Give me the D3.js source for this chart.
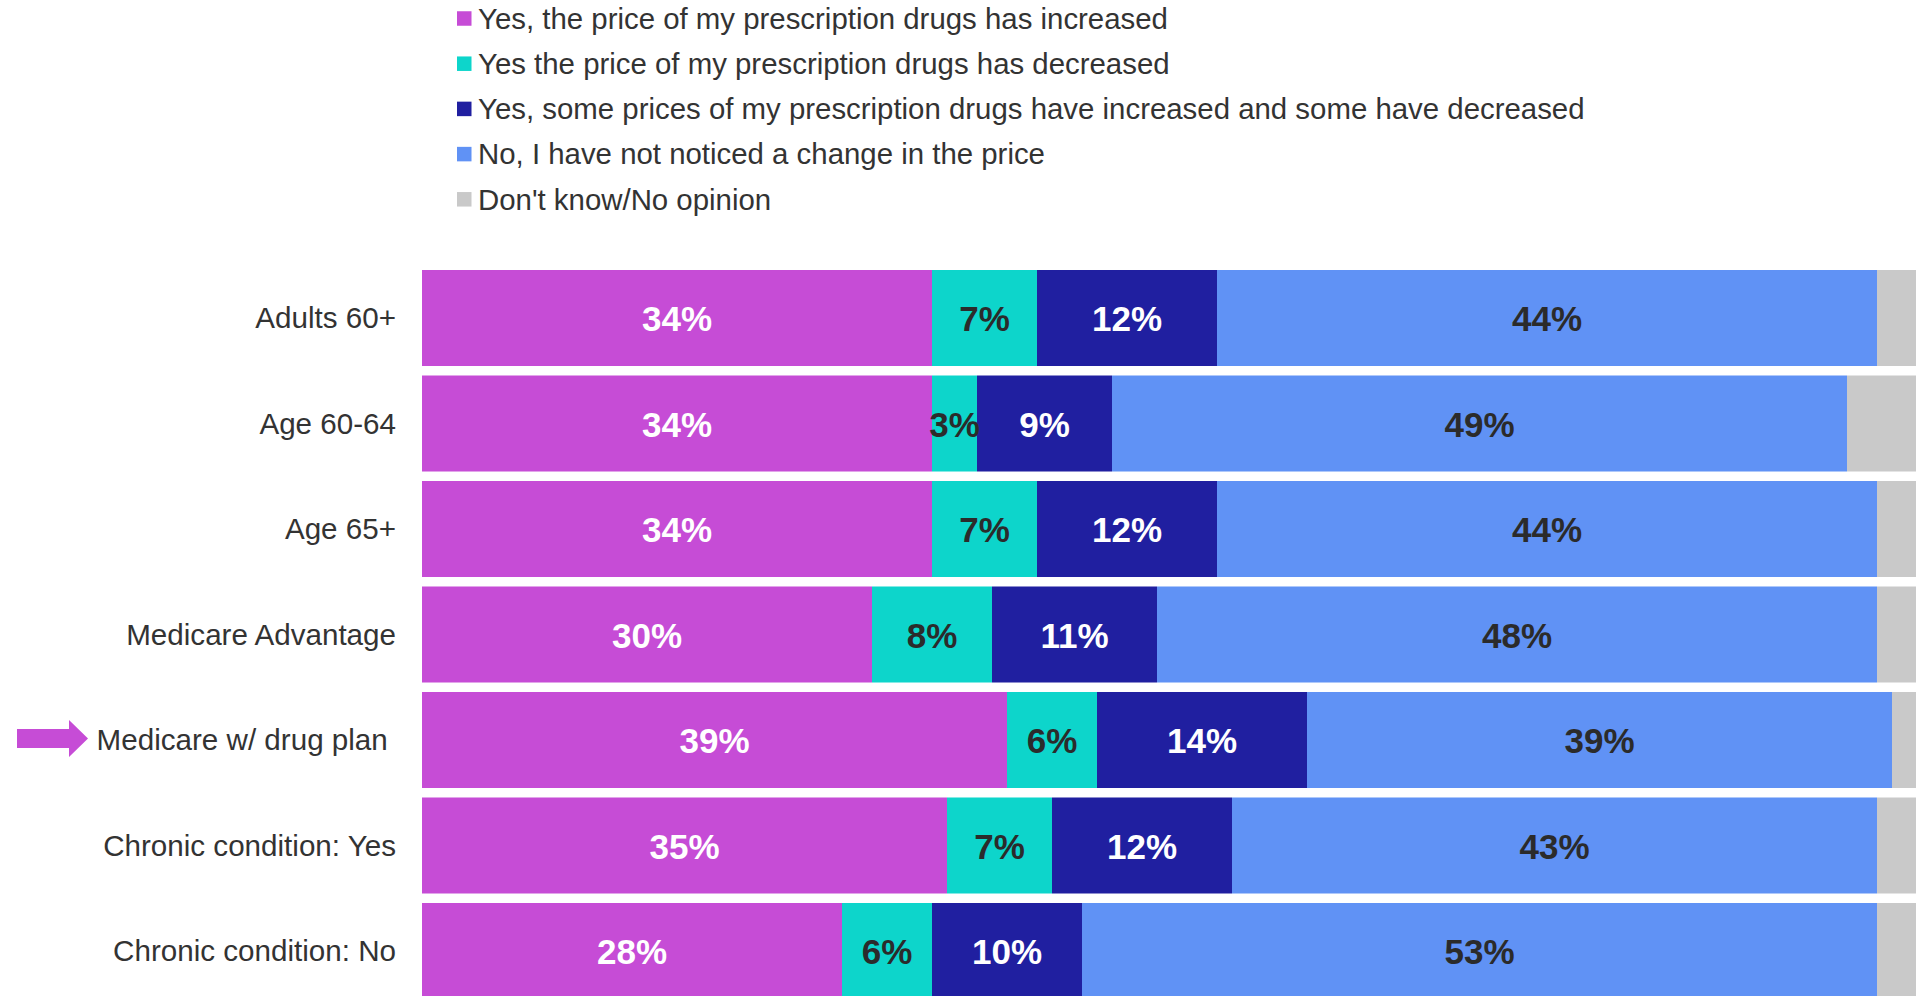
<!DOCTYPE html>
<html>
<head>
<meta charset="utf-8">
<script src="https://cdn.jsdelivr.net/npm/d3@7"></script>
<style>
  html, body { margin: 0; padding: 0; background: #fff; overflow: hidden; }
  svg { display: block; font-family: "Liberation Sans", Arial, sans-serif; }
</style>
</head>
<body>
<svg id="chart" width="1916" height="996"></svg>
<script>
// Survey groups (rows, top to bottom)
const categories = [
  "Adults 60+",
  "Age 60-64",
  "Age 65+",
  "Medicare Advantage",
  "Medicare w/ drug plan ",
  "Chronic condition: Yes",
  "Chronic condition: No"
];

// Response options (stack order, left to right)
const seriesNames = [
  "Yes, the price of my prescription drugs has increased",
  "Yes the price of my prescription drugs has decreased",
  "Yes, some prices of my prescription drugs have increased and some have decreased",
  "No, I have not noticed a change in the price",
  "Don't know/No opinion"
];

// Percent of respondents per group, one array per response
const increased     = [34, 34, 34, 30, 39, 35, 28];
const decreased     = [7, 3, 7, 8, 6, 7, 6];
const mixed         = [12, 9, 12, 11, 14, 12, 10];
const noChange      = [44, 49, 44, 48, 39, 43, 53];
const dontKnow      = [3, 5, 3, 3, 2, 3, 3];

const seriesValues = [increased, decreased, mixed, noChange, dontKnow];
const colors = ["#C64CD6", "#0DD5CB", "#201FA0", "#6092F5", "#C9C9C9"];
const labelColors = ["#ffffff", "#2b2b2b", "#ffffff", "#2b2b2b", null];

// Row highlighted with an arrow
const highlighted = "Medicare w/ drug plan ";

const svg = d3.select("#chart");

const rows = categories.map((c, i) => {
  const r = { category: c };
  seriesNames.forEach((s, k) => { r[s] = seriesValues[k][i]; });
  return r;
});

const stacked = d3.stack().keys(seriesNames)(rows);

const x = d3.scaleLinear().domain([0, 100]).range([422, 1922]);
const y = d3.scaleBand()
  .domain(categories)
  .range([270, 270 + 7 * 105.5 - 9.5])
  .paddingInner(0.09)
  .paddingOuter(0);

// Legend
const legend = svg.append("g").attr("class", "legend");
seriesNames.forEach((name, k) => {
  const cy = 18.5 + k * 45.2;
  legend.append("rect")
    .attr("x", 457).attr("y", cy - 7.25)
    .attr("width", 14.5).attr("height", 14.5)
    .attr("fill", colors[k]);
  legend.append("text")
    .attr("x", 478).attr("y", cy)
    .attr("dy", "0.35em")
    .attr("font-size", 29.4)
    .attr("fill", "#333")
    .text(name);
});

// Stacked segments
const layers = svg.append("g").attr("class", "bars")
  .selectAll("g").data(stacked).join("g")
  .attr("fill", (d, k) => colors[k]);

layers.selectAll("rect")
  .data(d => d.map(p => ({ p, cat: p.data.category })))
  .join("rect")
  .attr("x", d => x(d.p[0]))
  .attr("y", d => y(d.cat))
  .attr("width", d => x(d.p[1]) - x(d.p[0]))
  .attr("height", y.bandwidth());

// Segment value labels
const valueLabels = svg.append("g").attr("class", "values");
stacked.forEach((layer, k) => {
  if (!labelColors[k]) return;
  valueLabels.selectAll(null)
    .data(layer)
    .join("text")
    .attr("x", d => (x(d[0]) + x(d[1])) / 2)
    .attr("y", d => y(d.data.category) + y.bandwidth() / 2)
    .attr("dy", "0.38em")
    .attr("text-anchor", "middle")
    .attr("font-size", 35)
    .attr("font-weight", "bold")
    .attr("fill", labelColors[k])
    .text(d => (d[1] - d[0]) + "%");
});

// Category axis labels
const yAxis = svg.append("g").attr("class", "y-axis");
yAxis.selectAll("text")
  .data(categories)
  .join("text")
  .attr("x", 396)
  .attr("y", d => y(d) + y.bandwidth() / 2)
  .attr("dy", "0.35em")
  .attr("text-anchor", "end")
  .attr("font-size", 29.6)
  .attr("fill", "#333")
  .style("white-space", "pre")
  .text(d => d);

// Arrow pointing at the highlighted group
const ay = y(highlighted) + y.bandwidth() / 2 - 1.5;
svg.append("path")
  .attr("d", d3.line()([
    [17, ay - 9.5], [69, ay - 9.5], [69, ay - 18.5], [88, ay],
    [69, ay + 18.5], [69, ay + 9.5], [17, ay + 9.5]
  ]) + "Z")
  .attr("fill", "#C64CD6");
</script>
</body>
</html>
